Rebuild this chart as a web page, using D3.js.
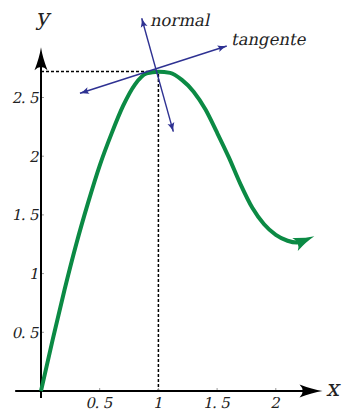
<!DOCTYPE html>
<html>
<head>
<meta charset="utf-8">
<script src="https://cdn.jsdelivr.net/npm/d3@7/dist/d3.min.js"></script>
<style>
  html, body { margin: 0; padding: 0; background: #fff; }
  svg { display: block; }
</style>
</head>
<body>
<svg width="345" height="411"></svg>
<script>
// curve points
const curveX = [0, 0.1, 0.2, 0.3, 0.4, 0.5, 0.6, 0.7, 0.8, 0.9, 1.0, 1.1, 1.2, 1.3, 1.4, 1.5, 1.6, 1.7, 1.8, 1.9, 2.0, 2.1, 2.18, 2.25];
const curveY = [0, 0.44, 0.86, 1.25, 1.6, 1.92, 2.19, 2.43, 2.61, 2.705, 2.72, 2.71, 2.65, 2.55, 2.4, 2.2, 1.99, 1.76, 1.56, 1.42, 1.33, 1.28, 1.265, 1.285];

const peak = [1, 2.718];
const tangentX = [0.332, 1.582];
const tangentY = [2.536, 2.939];
const normalX = [1.127, 0.858];
const normalY = [2.209, 3.175];

const xTicks = [0.5, 1, 1.5, 2];
const yTicks = [0.5, 1, 1.5, 2, 2.5];
const xExtent = [-0.22, 2.33];
const yExtent = [-0.06, 2.86];

const green = '#0b8a44';
const blue = '#2e3192';
const serif = 'DejaVu Serif, serif';

const svg = d3.select('svg');
const x = d3.scaleLinear().domain([0, 2]).range([41, 275.8]);
const y = d3.scaleLinear().domain([0, 2.5]).range([391, 97.5]);

const defs = svg.append('defs');
function arrow(id, len, wid, color, back, orient) {
  defs.append('marker')
      .attr('id', id)
      .attr('markerUnits', 'userSpaceOnUse')
      .attr('orient', orient || 'auto')
      .attr('viewBox', [-len - 1, -wid / 2 - 1, len + 2 + back, wid + 2])
      .attr('markerWidth', len + 2 + back)
      .attr('markerHeight', wid + 2)
      .attr('refX', -back)
      .attr('refY', 0)
    .append('path')
      .attr('fill', color)
      .attr('d', `M0,0 Q${-len * 0.45},${-wid * 0.12} ${-len},${-wid / 2} Q${-len * 0.72},0 ${-len},${wid / 2} Q${-len * 0.45},${wid * 0.12} 0,0 Z`);
}
arrow('ax', 23, 13, '#000', 8);
arrow('bl', 9, 7, blue, 0);
arrow('bls', 9, 7, blue, 0, 'auto-start-reverse');
arrow('gr', 21, 14, green, 10);

// slanted serif text (italic look)
function label(sel, px, py, size, anchor) {
  return sel
      .attr('transform', `translate(${px},${py}) skewX(-12)`)
      .attr('font-family', serif)
      .attr('font-size', size)
      .attr('fill', '#222')
      .attr('text-anchor', anchor || 'start');
}

// dashed guides
svg.append('path')
    .attr('fill', 'none')
    .attr('stroke', '#000')
    .attr('stroke-width', 1.5)
    .attr('stroke-dasharray', '3,2')
    .attr('d', `M${x(0)},${Math.round(y(peak[1])) - 0.5}H${x(peak[0])}V${y(0)}`);

// axes
svg.append('line')
    .attr('x1', x(xExtent[0])).attr('x2', x(xExtent[1]))
    .attr('y1', y(0)).attr('y2', y(0))
    .attr('stroke', '#000').attr('stroke-width', 2)
    .attr('marker-end', 'url(#ax)');
svg.append('line')
    .attr('x1', x(0)).attr('x2', x(0))
    .attr('y1', y(yExtent[0])).attr('y2', y(yExtent[1]))
    .attr('stroke', '#000').attr('stroke-width', 2)
    .attr('marker-end', 'url(#ax)');

const fmt = d => String(d).replace('.', '. ');

svg.append('g').selectAll('line')
    .data(xTicks)
    .join('line')
    .attr('x1', d => x(d)).attr('x2', d => x(d))
    .attr('y1', y(0) - 1).attr('y2', y(0) - 3)
    .attr('stroke', '#999');
svg.append('g').selectAll('text')
    .data(xTicks)
    .join('text')
    .each(function(d) { label(d3.select(this), x(d) - 1, y(0) + 17, 15, 'middle'); })
    .attr('letter-spacing', -0.6)
    .style('white-space', 'pre')
    .text(fmt);

svg.append('g').selectAll('line')
    .data(yTicks)
    .join('line')
    .attr('x1', x(0) + 1).attr('x2', x(0) + 3)
    .attr('y1', d => y(d)).attr('y2', d => y(d))
    .attr('stroke', '#999');
svg.append('g').selectAll('text')
    .data(yTicks)
    .join('text')
    .each(function(d) { label(d3.select(this), x(0) - 3, y(d) + 5.5, 15, 'end'); })
    .attr('letter-spacing', -0.6)
    .style('white-space', 'pre')
    .text(fmt);

label(svg.append('text'), 36, 25, 23).text('y');
label(svg.append('text'), 326, 396, 23).text('x');

// curve
const pts = curveX.map((d, i) => [d, curveY[i]]);
svg.append('path')
    .datum(pts)
    .attr('fill', 'none')
    .attr('stroke', green)
    .attr('stroke-width', 4)
    .attr('marker-end', 'url(#gr)')
    .attr('d', d3.line().x(d => x(d[0])).y(d => y(d[1])).curve(d3.curveMonotoneX));

// tangent & normal
function arrowLine(xs, ys) {
  svg.append('line')
      .attr('x1', x(xs[0])).attr('y1', y(ys[0]))
      .attr('x2', x(xs[1])).attr('y2', y(ys[1]))
      .attr('stroke', blue).attr('stroke-width', 1.4)
      .attr('marker-start', 'url(#bls)')
      .attr('marker-end', 'url(#bl)');
}
arrowLine(tangentX, tangentY);
arrowLine(normalX, normalY);

label(svg.append('text'), 150, 26, 16.5).text('normal');
label(svg.append('text'), 231, 45, 16.5).text('tangente');
</script>
</body>
</html>
